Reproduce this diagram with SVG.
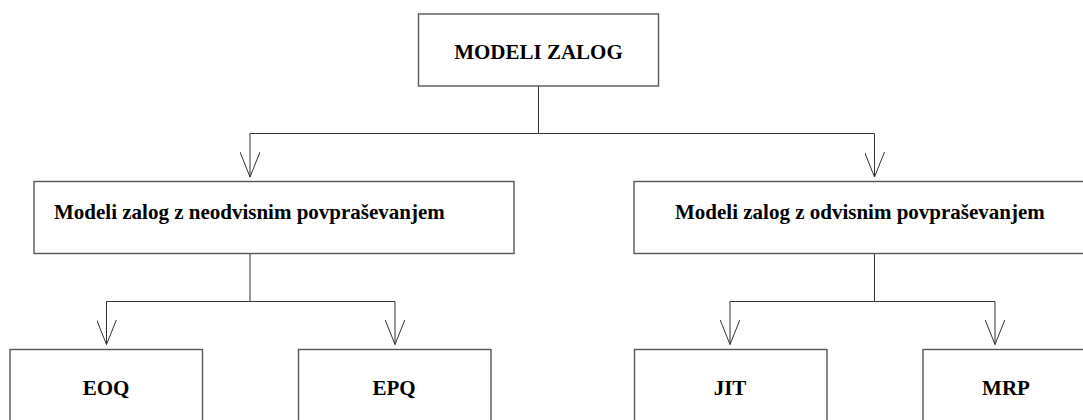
<svg xmlns="http://www.w3.org/2000/svg" width="1083" height="420" viewBox="0 0 1083 420">
  <style>
    .box { fill: #ffffff; stroke: #555555; stroke-width: 1.4; }
    .lbl { font-family: "Liberation Serif", "Times New Roman", serif; font-weight: bold; font-size: 21px; fill: #000000; }
    .wire { fill: none; stroke: #333333; stroke-width: 1; }
  </style>
  <defs>
    <!-- open V head, drawn along +x so orient="auto" turns it with the line -->
    <marker id="vhead" viewBox="0 0 26 20" refX="25" refY="10" markerWidth="26" markerHeight="20" markerUnits="userSpaceOnUse" orient="auto">
      <path d="M0,0 L25,10 L0,20" fill="none" stroke="#333333" stroke-width="1"/>
    </marker>
  </defs>
  <rect width="1083" height="420" fill="#ffffff"/>

  <g id="connectors">
    <!-- root to second level -->
    <path class="wire" d="M538.5,86 V133.5"/>
    <path class="wire" d="M250,133.5 H874.5"/>
    <path class="wire" d="M250,133.5 V177" marker-end="url(#vhead)"/>
    <path class="wire" d="M874.5,133.5 V177" marker-end="url(#vhead)"/>
    <!-- independent demand branch -->
    <path class="wire" d="M250,253.5 V301.5"/>
    <path class="wire" d="M106.5,301.5 H395"/>
    <path class="wire" d="M106.5,301.5 V344.5" marker-end="url(#vhead)"/>
    <path class="wire" d="M395,301.5 V344.5" marker-end="url(#vhead)"/>
    <!-- dependent demand branch -->
    <path class="wire" d="M874.5,253.5 V301.5"/>
    <path class="wire" d="M730,301.5 H995"/>
    <path class="wire" d="M730,301.5 V344.5" marker-end="url(#vhead)"/>
    <path class="wire" d="M995,301.5 V344.5" marker-end="url(#vhead)"/>
  </g>

  <g id="modeli-zalog">
    <rect class="box" x="418.5" y="14" width="240" height="72"/>
    <text class="lbl" x="538.5" y="59" text-anchor="middle">MODELI ZALOG</text>
  </g>

  <g id="neodvisno">
    <rect class="box" x="34" y="181.5" width="480" height="72"/>
    <text class="lbl" x="54" y="219">Modeli zalog z neodvisnim povpraševanjem</text>
  </g>

  <g id="odvisno">
    <rect class="box" x="634" y="181.5" width="480" height="72"/>
    <text class="lbl" x="675" y="219">Modeli zalog z odvisnim povpraševanjem</text>
  </g>

  <g id="eoq">
    <rect class="box" x="10" y="349.5" width="192.5" height="100"/>
    <text class="lbl" x="106" y="395" text-anchor="middle">EOQ</text>
  </g>

  <g id="epq">
    <rect class="box" x="298.5" y="349.5" width="192.5" height="100"/>
    <text class="lbl" x="394" y="395" text-anchor="middle">EPQ</text>
  </g>

  <g id="jit">
    <rect class="box" x="634.5" y="349.5" width="192.5" height="100"/>
    <text class="lbl" x="730" y="395" text-anchor="middle">JIT</text>
  </g>

  <g id="mrp">
    <rect class="box" x="923" y="349.5" width="192.5" height="100"/>
    <text class="lbl" x="1006" y="395" text-anchor="middle">MRP</text>
  </g>
</svg>
